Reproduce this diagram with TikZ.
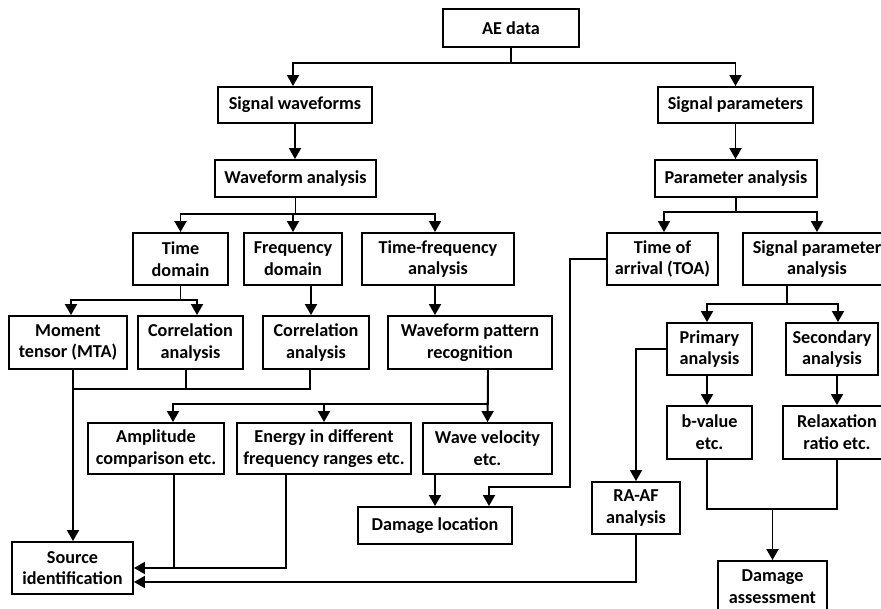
\documentclass[tikz,border=0pt]{standalone}
\usepackage{fontspec}
\setmainfont{Carlito}
\usetikzlibrary{arrows.meta}
\tikzset{
  box/.style={draw, line width=1.9pt, rectangle, inner sep=0pt, align=center,
    font=\bfseries\fontsize{18.2}{21.7}\selectfont},
  conn/.style={line width=1.9pt},
  arr/.style={conn, -{Triangle[length=11pt,width=12pt]}},
}
\begin{document}
\begin{tikzpicture}[x=1pt,y=-1pt]
\clip (0,0) rectangle (881,609);
\fill[white] (0,0) rectangle (881,609);
% nodes
\node[box, minimum width=136, minimum height=38] (ae) at (511,28) {AE data};
\node[box, minimum width=154, minimum height=36] (sw) at (295,105) {Signal waveforms};
\node[box, minimum width=155, minimum height=36] (sp) at (735.5,105) {Signal parameters};
\node[box, minimum width=161, minimum height=37] (wa) at (295.5,178.5) {Waveform analysis};
\node[box, minimum width=162, minimum height=37] (pa) at (736,178.5) {Parameter analysis};
\node[box, minimum width=95, minimum height=52] (td) at (180.5,259) {Time\\domain};
\node[box, minimum width=98, minimum height=52] (fd) at (293,259) {Frequency\\domain};
\node[box, minimum width=152, minimum height=52] (tfa) at (438,259) {Time-frequency\\analysis};
\node[box, minimum width=111, minimum height=52] (toa) at (662.5,259) {Time of\\arrival (TOA)};
\node[box, minimum width=148, minimum height=52] (spa) at (817,259) {Signal parameter\\analysis};
\node[box, minimum width=118, minimum height=53] (mta) at (68,342.5) {Moment\\tensor (MTA)};
\node[box, minimum width=105, minimum height=53] (ca1) at (190.5,342.5) {Correlation\\analysis};
\node[box, minimum width=106, minimum height=53] (ca2) at (316,342.5) {Correlation\\analysis};
\node[box, minimum width=164, minimum height=53] (wpr) at (470,342.5) {Waveform pattern\\recognition};
\node[box, minimum width=85, minimum height=52] (prim) at (709.5,349) {Primary\\analysis};
\node[box, minimum width=92, minimum height=52] (sec) at (832,349) {Secondary\\analysis};
\node[box, minimum width=136, minimum height=51] (amp) at (156,448.5) {Amplitude\\comparison etc.};
\node[box, minimum width=174, minimum height=51] (en) at (324,448.5) {Energy in different\\frequency ranges etc.};
\node[box, minimum width=129, minimum height=51] (wv) at (487.5,448.5) {Wave velocity\\etc.};
\node[box, minimum width=85, minimum height=53] (bv) at (709.5,432.5) {b-value\\etc.};
\node[box, minimum width=108, minimum height=53] (rr) at (837,432.5) {Relaxation\\ratio etc.};
\node[box, minimum width=154, minimum height=37] (dl) at (435,525.5) {Damage location};
\node[box, minimum width=88, minimum height=52] (ra) at (636,508) {RA-AF\\analysis};
\node[box, minimum width=121, minimum height=52] (si) at (72.5,568) {Source\\identification};
\node[box, minimum width=109, minimum height=52] (da) at (772.5,587) {Damage\\assessment};
% connectors
\draw[arr] (ae.south) -- ++(0,15) -| ([xshift=-2pt]sw.north);
\draw[arr] (ae.south) -- ++(0,15) -| (sp.north);
\draw[arr] (sw.south) -- (sw.south |- wa.north);
\draw[arr] (sp.south) -- (sp.south |- pa.north);
\draw[arr] (wa.south) -- ++(0,16) -| (td.north);
\draw[arr] (wa.south) -- ++(0,16) -| (fd.north);
\draw[arr] (wa.south) -- ++(0,16) -| ([xshift=-3pt]tfa.north);
\draw[arr] (td.south) -- ++(0,14) -| ([xshift=3pt]mta.north);
\draw[arr] (td.south) -- ++(0,14) -| ([xshift=6.5pt]ca1.north);
\draw[arr] ([xshift=18pt]fd.south) -- ([xshift=-5pt]ca2.north);
\draw[arr] ([xshift=-3pt]tfa.south) -- ([xshift=-35pt]wpr.north);
\draw[arr] ([xshift=5pt]mta.south) -- ([xshift=0.5pt]si.north);
\coordinate (m1) at (73,389);
\draw[conn] ([xshift=-4.5pt]ca1.south) -- ([xshift=-4.5pt]ca1.south |- m1);
\draw[conn] ([xshift=-6pt]ca2.south) |- (m1);
\draw[arr] ([xshift=18pt]wpr.south) -- (wv.north);
\draw[arr] ([xshift=18pt]wpr.south) -- ++(0,34) -| ([xshift=17pt]amp.north);
\draw[arr] ([xshift=18pt]wpr.south) -- ++(0,34) -| (en.north);
\draw[arr] (dl.north |- wv.south) -- (dl.north);
\draw[arr] (toa.west) -| (570,487) -| ([xshift=54pt]dl.north);
\draw[arr] ([xshift=18pt]amp.south) |- (si.east);
\draw[conn] ([xshift=-38pt]en.south) |- ([xshift=18pt]amp.south |- si.east);
\draw[arr] (ra.south) |- ([yshift=-14pt]si.east);
\draw[arr] (pa.south) -- ++(0,14) -| ([xshift=1.5pt]toa.north);
\draw[arr] (pa.south) -- ++(0,14) -| (spa.north);
\draw[arr] ([xshift=-30pt]spa.south) -- ++(0,18) -| ([xshift=-2.5pt]prim.north);
\draw[arr] ([xshift=-30pt]spa.south) -- ++(0,18) -| ([xshift=6pt]sec.north);
\draw[arr] (prim.west) -| (ra.north);
\draw[arr] ([xshift=-2.5pt]prim.south) -- ([xshift=-2.5pt]bv.north);
\draw[arr] ([xshift=5pt]sec.south) -- (rr.north);
\draw[conn] ([xshift=-2.5pt]bv.south) -- ++(0,49) -| (rr.south);
\draw[arr] (da.north |- 0,508) -- (da.north);
\end{tikzpicture}
\end{document}
